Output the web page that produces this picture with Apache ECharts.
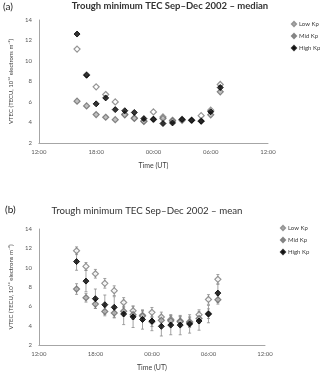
<!DOCTYPE html>
<html><head><meta charset="utf-8">
<script src="https://cdn.jsdelivr.net/npm/echarts@6/dist/echarts.min.js"></script>
<style>html,body{margin:0;padding:0;background:#fff}#c{width:320px;height:372px}</style>
</head><body><div id="c"></div>
<script>
const timeLabels = ['16:00','17:00','18:00','19:00','20:00','21:00','22:00','23:00','00:00','01:00','02:00','03:00','04:00','05:00','06:00','07:00'];
const xTickLabels = ['12:00','18:00','00:00','06:00','12:00'];
const yTicks = [2,4,6,8,10,12,14];

const medianLow  = [11.16, 8.65, 7.48, 6.73, 6.01, 4.80, 4.45, 4.15, 5.03, 4.54, 4.22, 4.20, 4.22, 4.67, 5.20, 7.71];
const medianMid  = [6.08, 5.62, 4.77, 4.51, 4.28, 4.75, 4.40, 4.10, 4.30, 4.40, 4.15, 4.30, 4.22, 4.15, 4.75, 6.99];
const medianHigh = [12.63, 8.62, 5.82, 6.40, 5.26, 5.15, 4.98, 4.38, 4.32, 3.90, 3.96, 4.30, 4.22, 4.12, 5.05, 7.41];

const meanLow  = [11.75, 10.13, 9.37, 8.38, 7.62, 6.40, 5.54, 5.07, 5.38, 4.90, 4.64, 4.48, 4.41, 5.14, 6.71, 8.79];
const meanMid  = [7.79, 6.89, 6.23, 5.47, 5.31, 5.50, 5.14, 5.00, 4.41, 4.55, 4.50, 4.41, 4.31, 4.74, 5.24, 6.68];
const meanHigh = [10.63, 8.61, 6.79, 6.17, 5.90, 5.21, 4.91, 4.64, 4.48, 3.93, 4.06, 4.06, 4.18, 4.48, 5.20, 7.37];
const errLow  = [0.40, 0.40, 0.45, 0.50, 0.50, 0.50, 0.50, 0.50, 0.50, 0.50, 0.50, 0.50, 0.50, 0.50, 0.50, 0.50];
const errMid  = [0.55, 0.45, 0.45, 0.45, 0.45, 0.50, 0.50, 0.50, 0.50, 0.50, 0.50, 0.50, 0.50, 0.50, 0.50, 0.45];
const errHigh = [0.90, 1.10, 1.00, 1.00, 1.10, 1.10, 1.10, 1.00, 1.00, 1.00, 1.00, 1.00, 0.95, 0.95, 0.90, 0.95];

const FONT = 'Lato, "Open Sans", sans-serif';
function toHour(s){ let h = parseInt(s.split(':')[0],10); if (h < 12) h += 24; return h; }
const hours = timeLabels.map(toHour);
function pts(vals){ return vals.map((v,i)=>[hours[i], v]); }
function fmtX(v){ const idx = Math.round((v-12)/6); return xTickLabels[idx] !== undefined ? xTickLabels[idx] : ''; }

const styles = {
  'Low Kp':  {color:'#ffffff', borderColor:'#7a7a7a', borderWidth:1.2},
  'Mid Kp':  {color:'#b0b0b0', borderColor:'#6a6a6a', borderWidth:1.2},
  'High Kp': {color:'#000000', borderColor:'#000000', borderWidth:1}
};

function xAxis(gi){
  return {type:'value', gridIndex:gi, min:12, max:36, interval:6,
    name:'Time (UT)', nameLocation:'middle', nameGap:19,
    nameTextStyle:{fontFamily:FONT, fontSize:7, color:'#404040'},
    axisLine:{show:true, lineStyle:{color:'#a6a6a6', width:1}},
    axisTick:{show:false}, splitLine:{show:false},
    axisLabel:{fontFamily:FONT, fontSize:6, color:'#595959', margin:6, formatter:fmtX}};
}
function yAxis(gi, gap){
  return {type:'value', gridIndex:gi, min:yTicks[0], max:yTicks[yTicks.length-1], interval:2,
    name:'VTEC (TECU, 10\u00B9\u2076 electrons m\u207B\u00B2)', nameLocation:'middle', nameGap:gap,
    nameTextStyle:{fontFamily:FONT, fontSize:6, color:'#404040'},
    axisLine:{show:true, lineStyle:{color:'#a6a6a6', width:1}},
    axisTick:{show:false}, splitLine:{show:false},
    axisLabel:{fontFamily:FONT, fontSize:6, color:'#595959', margin:7}};
}
function scatter(name, gi, vals, z){
  return {type:'scatter', name:name, xAxisIndex:gi, yAxisIndex:gi, data:pts(vals),
    symbol:'diamond', symbolSize:6, itemStyle:styles[name], z:z};
}
function errBars(name, gi, vals, errs){
  const data = vals.map((v,i)=>[hours[i], v-errs[i], v+errs[i]]);
  return {type:'custom', name:name, xAxisIndex:gi, yAxisIndex:gi, data:data, z:1,
    renderItem:function(params, api){
      const x = api.value(0);
      const lo = api.coord([x, api.value(1)]);
      const hi = api.coord([x, api.value(2)]);
      const w = 1.5;
      const st = {stroke:'#8c8c8c', lineWidth:0.8};
      return {type:'group', children:[
        {type:'line', shape:{x1:lo[0], y1:lo[1], x2:hi[0], y2:hi[1]}, style:st},
        {type:'line', shape:{x1:lo[0]-w, y1:lo[1], x2:lo[0]+w, y2:lo[1]}, style:st},
        {type:'line', shape:{x1:hi[0]-w, y1:hi[1], x2:hi[0]+w, y2:hi[1]}, style:st}
      ]};
    }};
}
function legend(top, left){
  return {top:top, left:left, orient:'vertical', padding:0, itemGap:6, itemWidth:4, itemHeight:4,
    data:[{name:'Low Kp', icon:'diamond'},{name:'Mid Kp', icon:'diamond'},{name:'High Kp', icon:'diamond'}],
    textStyle:{fontFamily:FONT, fontSize:6, color:'#404040', padding:[0,0,0,-2]}, selectedMode:false};
}

const chart = echarts.init(document.getElementById('c'), null, {renderer:'canvas'});
chart.setOption({
  animation:false,
  backgroundColor:'#fff',
  grid:[
    {left:27, top:20, width:241, height:123},
    {left:22, top:229, width:243, height:121}
  ],
  xAxis:[xAxis(0), xAxis(1)],
  yAxis:[yAxis(0, 19), yAxis(1, 15)],
  legend:[legend(21, 291), legend(225, 280)],
  graphic:[
    {type:'text', x:170, y:6, style:{text:'Trough minimum TEC Sep\u2013Dec 2002 \u2013 median', font:'bold 9.5px '+FONT, fill:'#333', textAlign:'center', textVerticalAlign:'middle'}},
    {type:'text', x:3, y:7, style:{text:'(a)', font:'10px '+FONT, fill:'#222', textAlign:'left', textVerticalAlign:'middle'}},
    {type:'text', x:147, y:211, style:{text:'Trough minimum TEC Sep\u2013Dec 2002 \u2013 mean', font:'9.7px '+FONT, fill:'#333', textAlign:'center', textVerticalAlign:'middle'}},
    {type:'text', x:5, y:210, style:{text:'(b)', font:'10px '+FONT, fill:'#222', textAlign:'left', textVerticalAlign:'middle'}}
  ],
  series:[
    scatter('Low Kp', 0, medianLow, 2),
    scatter('Mid Kp', 0, medianMid, 3),
    scatter('High Kp', 0, medianHigh, 4),
    errBars('Low Kp', 1, meanLow, errLow),
    errBars('Mid Kp', 1, meanMid, errMid),
    errBars('High Kp', 1, meanHigh, errHigh),
    scatter('Low Kp', 1, meanLow, 2),
    scatter('Mid Kp', 1, meanMid, 3),
    scatter('High Kp', 1, meanHigh, 4)
  ]
});
</script></body></html>
